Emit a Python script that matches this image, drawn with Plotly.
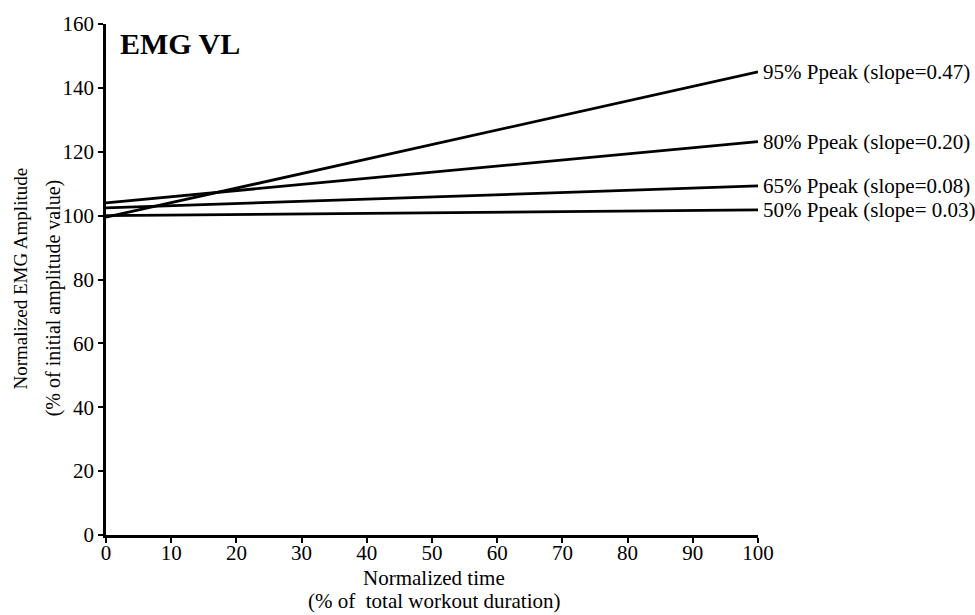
import plotly.graph_objects as go

# Regression lines of normalized EMG amplitude vs. normalized time
time_pts = [0, 100]
series_names = ["95% Ppeak (slope=0.47)", "80% Ppeak (slope=0.20)",
                "65% Ppeak (slope=0.08)", "50% Ppeak (slope= 0.03)"]
start_vals = [99.5, 104.0, 102.4, 100.0]
end_vals = [145.0, 123.2, 109.3, 101.8]

x_ticks = [0, 10, 20, 30, 40, 50, 60, 70, 80, 90, 100]
y_ticks = [0, 20, 40, 60, 80, 100, 120, 140, 160]

FONT = "Liberation Serif"

# plot-area geometry in pixels, used to place the free-standing titles
W, H = 975, 615
L, R, T, B = 106, 217, 19, 80
PW, PH = W - L - R, H - T - B


def px(x_pix):
    return (x_pix - L) / PW


def py(y_pix):
    return (H - B - y_pix) / PH


fig = go.Figure()
for name, y0, y1 in zip(series_names, start_vals, end_vals):
    fig.add_trace(go.Scatter(x=time_pts, y=[y0, y1], mode="lines",
                             line=dict(color="black", width=2.8),
                             name=name, showlegend=False, cliponaxis=False))
    fig.add_annotation(x=100, y=y1, text=name, showarrow=False,
                       xanchor="left", yanchor="middle", xshift=3,
                       font=dict(family=FONT, size=21, color="black"))

fig.add_annotation(x=px(118), y=py(39), xref="paper", yref="paper", text="<b>EMG VL</b>",
                   showarrow=False, xanchor="left", yanchor="middle",
                   font=dict(family=FONT, size=30, color="black"))

# axis titles, one annotation per line
title_font_y1 = dict(family=FONT, size=19, color="black")
title_font_y2 = dict(family=FONT, size=20, color="black")
title_font_x = dict(family=FONT, size=21, color="black")
fig.add_annotation(x=px(21), y=py(276), xref="paper", yref="paper",
                   text="Normalized EMG Amplitude", textangle=-90, showarrow=False,
                   xanchor="center", yanchor="middle", font=title_font_y1)
fig.add_annotation(x=px(53), y=py(296), xref="paper", yref="paper",
                   text="(% of initial amplitude value)", textangle=-90, showarrow=False,
                   xanchor="center", yanchor="middle", font=title_font_y2)
fig.add_annotation(x=px(434), y=py(578), xref="paper", yref="paper",
                   text="Normalized time", showarrow=False,
                   xanchor="center", yanchor="middle", font=title_font_x)
fig.add_annotation(x=px(434), y=py(602), xref="paper", yref="paper",
                   text="(% of  total workout duration)", showarrow=False,
                   xanchor="center", yanchor="middle", font=title_font_x)

fig.update_layout(
    width=W, height=H,
    margin=dict(l=L, r=R, t=T, b=B),
    paper_bgcolor="white", plot_bgcolor="white",
    font=dict(family=FONT, size=21, color="black"),
    xaxis=dict(range=[0, 100], tickvals=x_ticks, showgrid=False, zeroline=False,
               showline=True, linecolor="black", linewidth=2.8,
               ticks="outside", ticklen=5, tickwidth=2, tickcolor="black",
               ticklabelstandoff=-8,
               tickfont=dict(family=FONT, size=21)),
    yaxis=dict(range=[0, 160], tickvals=y_ticks, showgrid=False, zeroline=False,
               showline=True, linecolor="black", linewidth=2.8,
               ticks="outside", ticklen=5, tickwidth=2, tickcolor="black",
               ticklabelstandoff=0,
               tickfont=dict(family=FONT, size=21)),
)

fig.write_html("out.html")
